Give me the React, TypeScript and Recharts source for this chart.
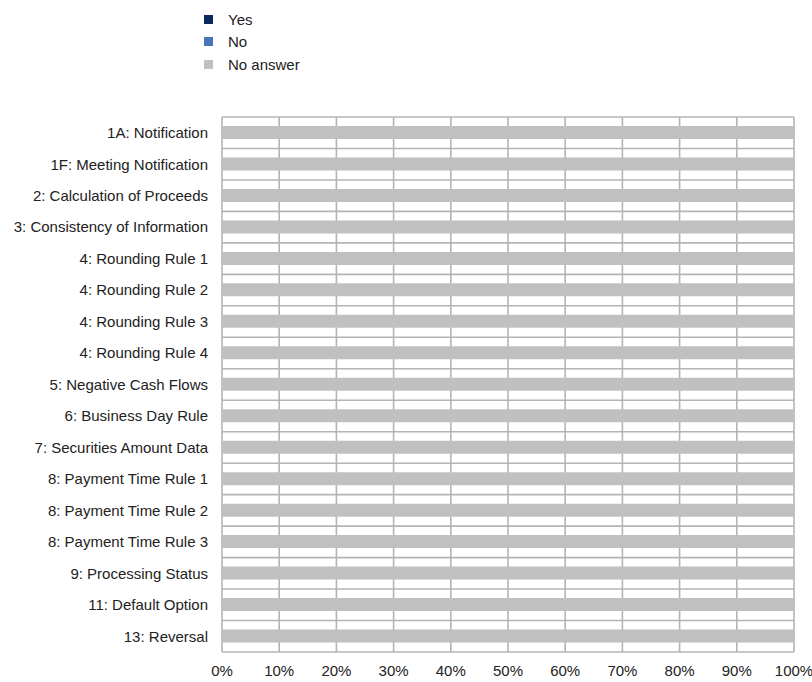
import React from "react";
import { BarChart, Bar, XAxis, YAxis, CartesianGrid } from "recharts";

const categories = [
  "1A: Notification",
  "1F: Meeting Notification",
  "2: Calculation of Proceeds",
  "3: Consistency of Information",
  "4: Rounding Rule 1",
  "4: Rounding Rule 2",
  "4: Rounding Rule 3",
  "4: Rounding Rule 4",
  "5: Negative Cash Flows",
  "6: Business Day Rule",
  "7: Securities Amount Data",
  "8: Payment Time Rule 1",
  "8: Payment Time Rule 2",
  "8: Payment Time Rule 3",
  "9: Processing Status",
  "11: Default Option",
  "13: Reversal",
];

const yesValues = [0, 0, 0, 0, 0, 0, 0, 0, 0, 0, 0, 0, 0, 0, 0, 0, 0];
const noValues = [0, 0, 0, 0, 0, 0, 0, 0, 0, 0, 0, 0, 0, 0, 0, 0, 0];
const noAnswerValues = [100, 100, 100, 100, 100, 100, 100, 100, 100, 100, 100, 100, 100, 100, 100, 100, 100];

const percentTicks = [0, 10, 20, 30, 40, 50, 60, 70, 80, 90, 100];

const series = [
  { key: "yes", label: "Yes", color: "#0b2a5b" },
  { key: "no", label: "No", color: "#4a76b8" },
  { key: "noAnswer", label: "No answer", color: "#c0c0c0" },
];

const data = categories.map((name, i) => ({
  name,
  yes: yesValues[i],
  no: noValues[i],
  noAnswer: noAnswerValues[i],
}));

const FONT = "'Liberation Sans', Arial, sans-serif";
const TEXT = "#222";
const GRID = "#b4b4b4";

const W = 812;
const H = 682;
const PLOT_TOP = 117;
const PLOT_BOTTOM = 30;

function LegendBox() {
  return (
    <div
      style={{
        position: "absolute",
        left: 204,
        top: 8,
        fontFamily: FONT,
        fontSize: 15,
        color: TEXT,
      }}
    >
      {series.map((s) => (
        <div key={s.key} style={{ display: "flex", alignItems: "center", height: 22.5 }}>
          <span
            style={{
              display: "inline-block",
              width: 9,
              height: 9,
              background: s.color,
              marginRight: 15,
            }}
          />
          {s.label}
        </div>
      ))}
    </div>
  );
}

// grid lines sit on the category boundaries, not on the band centres
const plotHeight = H - PLOT_TOP - PLOT_BOTTOM;
const boundaryPoints = Array.from(
  { length: categories.length + 1 },
  (_, i) => PLOT_TOP + (i * plotHeight) / categories.length
);

export default function App() {
  return (
    <div style={{ position: "absolute", left: 0, top: 0, width: W, height: H, background: "#fff" }}>
      <LegendBox />
      <BarChart
        width={W}
        height={H}
        data={data}
        layout="vertical"
        margin={{ top: PLOT_TOP, right: 18, bottom: 0, left: 0 }}
        barSize={13}
      >
        <CartesianGrid stroke={GRID} strokeWidth={1.6} horizontalPoints={boundaryPoints} />
        <XAxis
          type="number"
          domain={[0, 100]}
          ticks={percentTicks}
          tickFormatter={(v) => `${v}%`}
          axisLine={false}
          tickLine={false}
          tickMargin={7}
          height={PLOT_BOTTOM}
          interval={0}
          tick={{ fill: TEXT, fontSize: 15, fontFamily: FONT }}
        />
        <YAxis
          type="category"
          dataKey="name"
          width={222}
          axisLine={false}
          tickLine={false}
          tickMargin={8}
          interval={0}
          tick={{ fill: TEXT, fontSize: 15, fontFamily: FONT }}
        />
        {series.map((s) => (
          <Bar
            key={s.key}
            dataKey={s.key}
            name={s.label}
            stackId="a"
            fill={s.color}
            isAnimationActive={false}
          />
        ))}
      </BarChart>
    </div>
  );
}
